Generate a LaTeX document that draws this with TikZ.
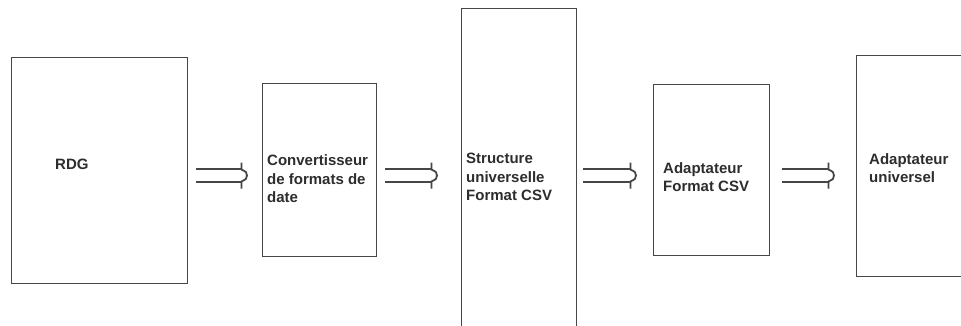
\documentclass[tikz,border=0pt]{standalone}
\usepackage{fontspec}
\setmainfont{Liberation Sans}
\usetikzlibrary{calc}
\definecolor{boxcol}{RGB}{70,70,70}
\definecolor{txtcol}{RGB}{45,45,45}
\tikzset{
  blk/.style={draw=boxcol, line width=1pt, fill=white, inner sep=0pt, outer sep=0pt, rectangle},
  lbl/.style={text=txtcol, font=\bfseries\fontsize{15}{18.5}\selectfont, align=left, inner sep=0pt, anchor=west},
  conn/.style={draw=boxcol, line width=1.1pt},
  connhead/.style={draw=boxcol, line width=1.8pt, line join=round, line cap=butt}
}
\newcommand\dblarr[2]{%
  \draw[conn] ($(#1)+(0,-6.5)$) -- ($(#2)+(-5.5,-6.5)$);
  \draw[conn] ($(#1)+(0,6.5)$) -- ($(#2)+(-5.5,6.5)$);
  \draw[connhead] ($(#2)+(-5.5,-13)$) -- ($(#2)+(-5.5,-6)$) .. controls ($(#2)+(-0.5,-3.5)$) .. (#2) .. controls ($(#2)+(-0.5,3.5)$) .. ($(#2)+(-5.5,6)$) -- ($(#2)+(-5.5,13)$);
}
\begin{document}
\begin{tikzpicture}[x=1pt,y=-1pt]
\useasboundingbox (0,0) rectangle (961,326);
\fill[white] (0,0) rectangle (961,326);
\clip (0,0) rectangle (961,326);
% blocks
\node[blk, minimum width=176pt, minimum height=225pt] (rdg) at (99,170.5) {};
\node[blk, minimum width=114pt, minimum height=172pt] (conv) at (319,170) {};
\node[blk, minimum width=115pt, minimum height=331pt] (struct) at (518.5,174.5) {};
\node[blk, minimum width=116pt, minimum height=170pt] (acsv) at (711,170) {};
\node[blk, minimum width=119pt, minimum height=220pt] (univ) at (915.5,166) {};
% labels
\node[lbl] (trdg) at (55,164) {RDG};
\node[lbl] (tconv) at (267,179) {Convertisseur\\de formats de\\date};
\node[lbl] (tstruct) at (466,177) {Structure\\universelle\\Format CSV};
\node[lbl] (tacsv) at (663,177) {Adaptateur\\Format CSV};
\node[lbl] (tuniv) at (869,168) {Adaptateur\\universel};
% connector end points
\coordinate (a1s) at ($(rdg.east |- 0,175.5)+(9,0)$);
\coordinate (a1e) at ($(conv.west |- 0,175.5)+(-15,0)$);
\coordinate (a2s) at ($(conv.east |- 0,175.5)+(9,0)$);
\coordinate (a2e) at ($(struct.west |- 0,175.5)+(-24,0)$);
\coordinate (a3s) at ($(struct.east |- 0,175.5)+(7,0)$);
\coordinate (a3e) at ($(acsv.west |- 0,175.5)+(-17,0)$);
\coordinate (a4s) at ($(acsv.east |- 0,175.5)+(13,0)$);
\coordinate (a4e) at ($(univ.west |- 0,175.5)+(-22,0)$);
\dblarr{a1s}{a1e}
\dblarr{a2s}{a2e}
\dblarr{a3s}{a3e}
\dblarr{a4s}{a4e}
\end{tikzpicture}
\end{document}
